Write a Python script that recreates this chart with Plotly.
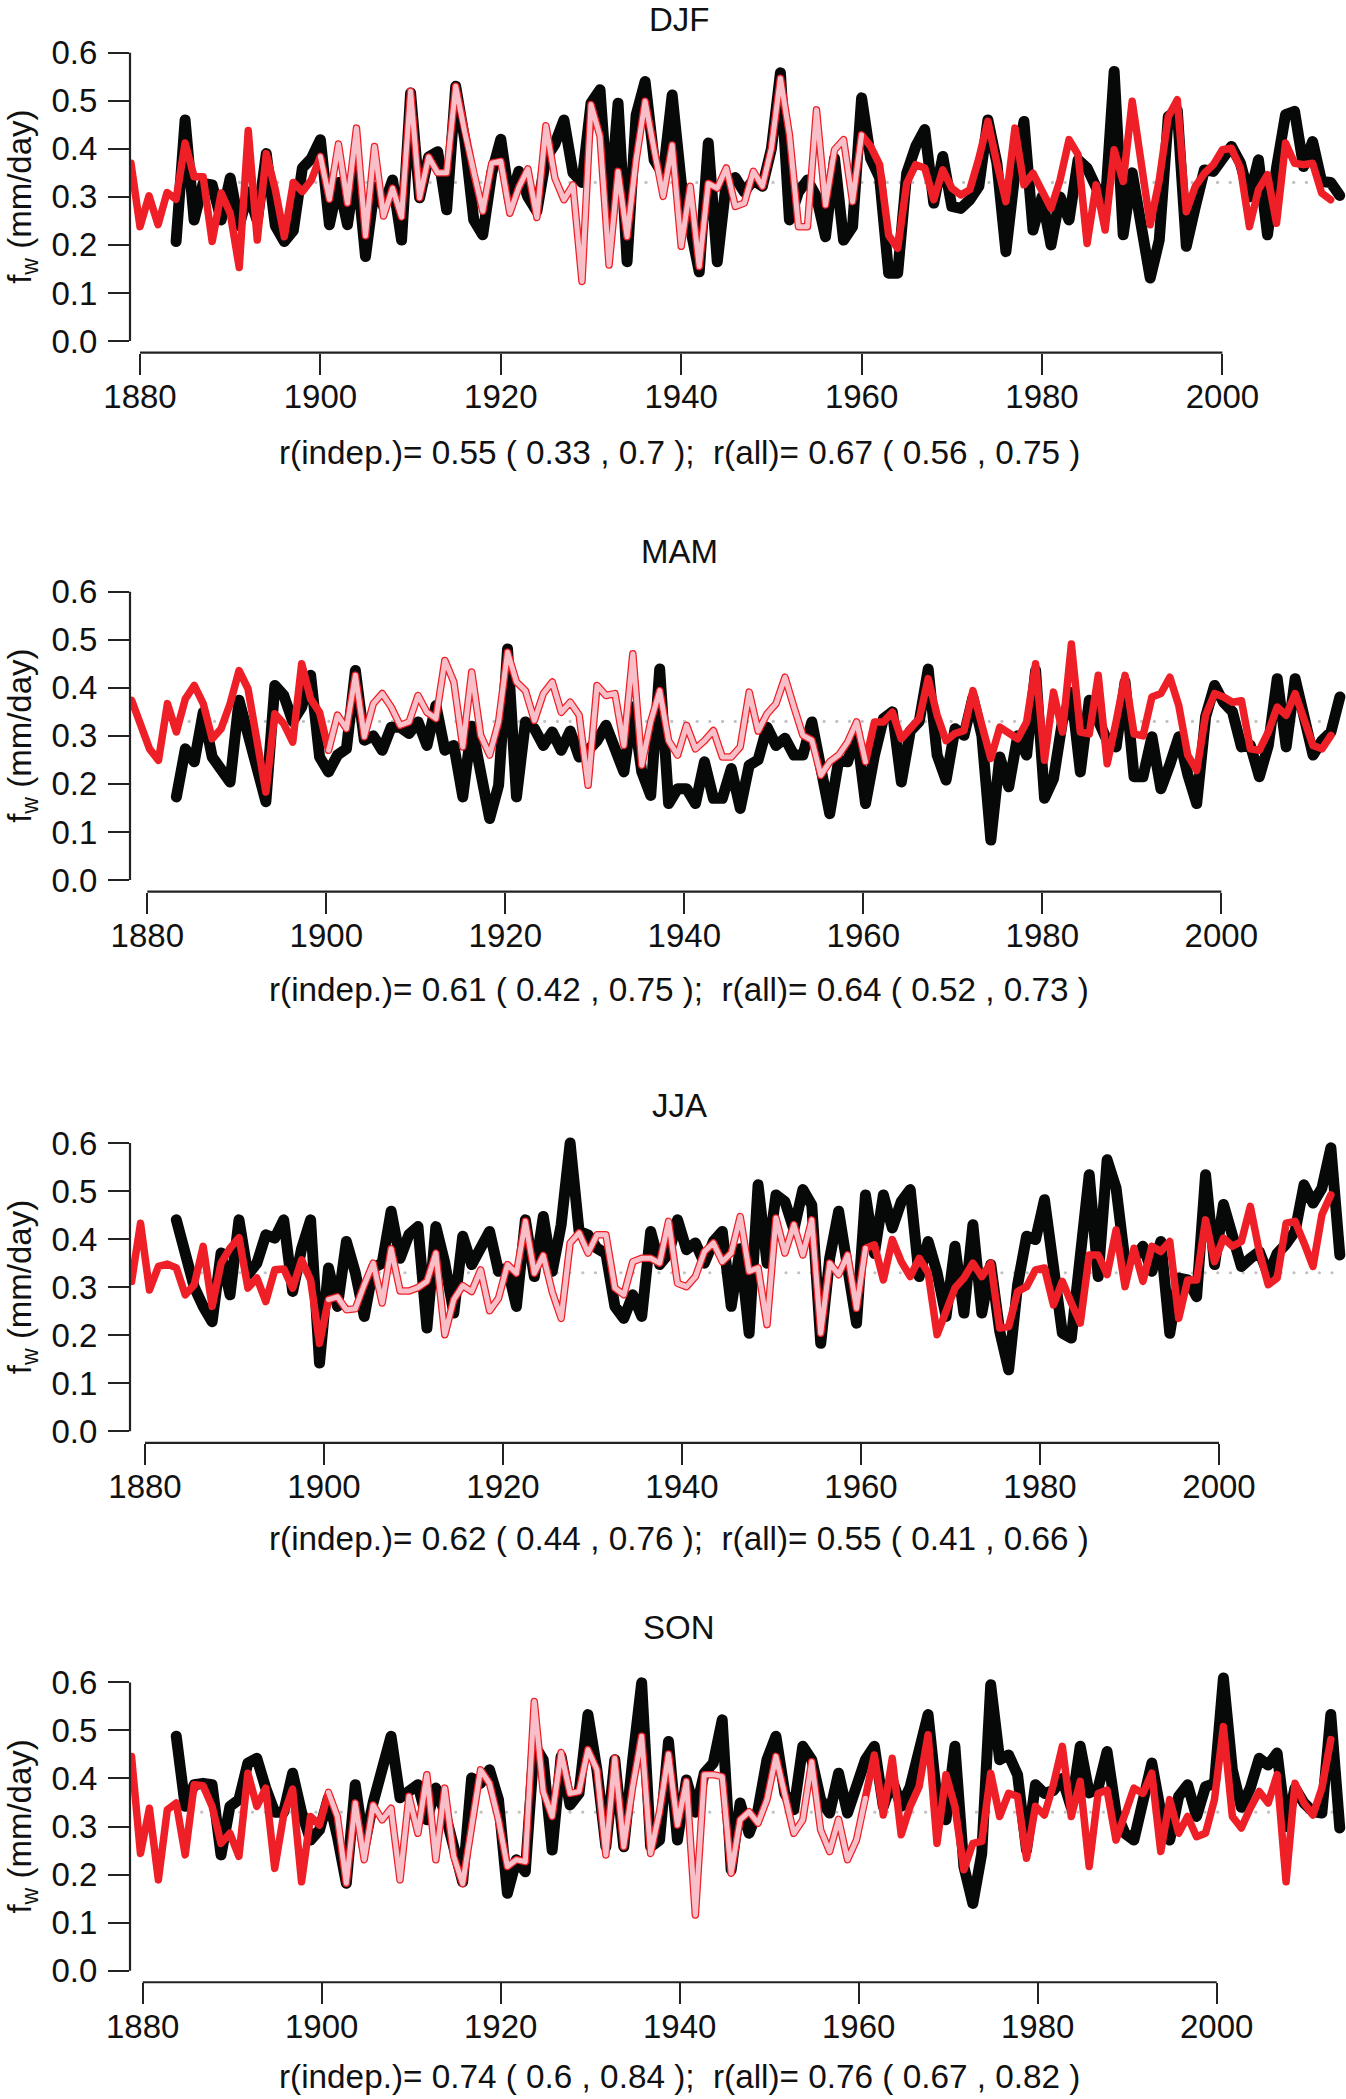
import plotly.graph_objects as go

# seasonal fw (mm/day): observed (black) and reconstruction (red), one value per year
season_names = ["DJF", "MAM", "JJA", "SON"]
season_offset = [0.0, 0.25, 0.5, 0.75]   # position of the season inside the year
clim = [0.33, 0.33, 0.33, 0.33]          # mean of the observations (dotted)
calib_years = (1900, 1960)               # period drawn in pink

djf_obs_start, djf_rec_start = 1884, 1879
mam_obs_start, mam_rec_start = 1883, 1878
jja_obs_start, jja_rec_start = 1883, 1878
son_obs_start, son_rec_start = 1883, 1878

djf_rec = [
    0.370,
    0.238, 0.302, 0.242, 0.309, 0.295, 0.412, 0.342, 0.342, 0.207, 0.308,
    0.266, 0.153, 0.438, 0.210, 0.390, 0.315, 0.217, 0.330, 0.311, 0.335,
    0.384, 0.295, 0.410, 0.287, 0.443, 0.219, 0.405, 0.260, 0.318, 0.258,
    0.520, 0.298, 0.383, 0.350, 0.350, 0.530, 0.435, 0.350, 0.270, 0.370,
    0.374, 0.266, 0.320, 0.358, 0.257, 0.448, 0.339, 0.294, 0.325, 0.124,
    0.492, 0.426, 0.158, 0.353, 0.217, 0.377, 0.499, 0.398, 0.301, 0.408,
    0.197, 0.322, 0.155, 0.328, 0.318, 0.360, 0.280, 0.287, 0.353, 0.322,
    0.401, 0.547, 0.429, 0.238, 0.238, 0.481, 0.283, 0.398, 0.419, 0.290,
    0.429, 0.405, 0.367, 0.220, 0.193, 0.328, 0.367, 0.360, 0.294, 0.356,
    0.318, 0.304, 0.315, 0.380, 0.457, 0.370, 0.290, 0.443, 0.325, 0.349,
    0.308, 0.276, 0.335, 0.419, 0.388, 0.203, 0.325, 0.231, 0.398, 0.332,
    0.499, 0.370, 0.242, 0.335, 0.467, 0.502, 0.269, 0.322, 0.349, 0.367,
    0.398, 0.401, 0.360, 0.238, 0.315, 0.346, 0.245, 0.412, 0.370, 0.367,
    0.370, 0.308, 0.294,
]
djf_obs = [
    0.207, 0.460, 0.252, 0.328, 0.325, 0.252,
    0.339, 0.240, 0.310, 0.250, 0.390, 0.240, 0.207, 0.230, 0.360, 0.380,
    0.419, 0.242, 0.330, 0.242, 0.370, 0.176, 0.320, 0.280, 0.335, 0.210,
    0.516, 0.298, 0.383, 0.394, 0.273, 0.530, 0.420, 0.252, 0.221, 0.350,
    0.420, 0.290, 0.353, 0.300, 0.270, 0.380, 0.410, 0.460, 0.350, 0.330,
    0.495, 0.523, 0.260, 0.495, 0.165, 0.470, 0.540, 0.377, 0.346, 0.512,
    0.330, 0.240, 0.144, 0.412, 0.165, 0.330, 0.340, 0.310, 0.335, 0.322,
    0.400, 0.558, 0.252, 0.310, 0.335, 0.300, 0.217, 0.380, 0.210, 0.238,
    0.506, 0.380, 0.340, 0.141, 0.141, 0.349, 0.405, 0.440, 0.287, 0.384,
    0.280, 0.276, 0.294, 0.322, 0.460, 0.370, 0.186, 0.350, 0.457, 0.231,
    0.300, 0.200, 0.300, 0.252, 0.377, 0.360, 0.320, 0.280, 0.561, 0.221,
    0.350, 0.240, 0.131, 0.210, 0.467, 0.480, 0.197, 0.280, 0.356, 0.353,
    0.377, 0.405, 0.370, 0.300, 0.377, 0.221, 0.360, 0.471, 0.478, 0.363,
    0.415, 0.332, 0.330, 0.303,
]

mam_rec = [
    0.374, 0.325,
    0.273, 0.249, 0.367, 0.308, 0.377, 0.405, 0.367, 0.294, 0.315, 0.367,
    0.436, 0.398, 0.280, 0.183, 0.346, 0.325, 0.287, 0.450, 0.377, 0.349,
    0.270, 0.343, 0.315, 0.426, 0.298, 0.367, 0.388, 0.360, 0.322, 0.329,
    0.384, 0.349, 0.336, 0.457, 0.412, 0.277, 0.433, 0.301, 0.260, 0.329,
    0.474, 0.412, 0.394, 0.332, 0.388, 0.412, 0.349, 0.370, 0.343, 0.197,
    0.405, 0.384, 0.388, 0.280, 0.471, 0.239, 0.330, 0.394, 0.290, 0.260,
    0.322, 0.273, 0.290, 0.311, 0.256, 0.256, 0.277, 0.391, 0.310, 0.346,
    0.367, 0.422, 0.360, 0.301, 0.291, 0.218, 0.246, 0.260, 0.287, 0.329,
    0.246, 0.329, 0.329, 0.349, 0.294, 0.315, 0.336, 0.419, 0.343, 0.290,
    0.305, 0.311, 0.394, 0.322, 0.253, 0.318, 0.304, 0.294, 0.329, 0.450,
    0.249, 0.391, 0.308, 0.491, 0.308, 0.304, 0.426, 0.242, 0.330, 0.426,
    0.304, 0.300, 0.381, 0.388, 0.422, 0.363, 0.260, 0.228, 0.343, 0.388,
    0.381, 0.370, 0.373, 0.273, 0.270, 0.308, 0.360, 0.343, 0.388, 0.336,
    0.280, 0.273, 0.301,
]
mam_obs = [
    0.173, 0.273, 0.246, 0.349, 0.256, 0.232, 0.204,
    0.374, 0.300, 0.218, 0.163, 0.405, 0.384, 0.330, 0.360, 0.426, 0.256,
    0.225, 0.260, 0.273, 0.436, 0.291, 0.300, 0.270, 0.318, 0.318, 0.305,
    0.329, 0.280, 0.363, 0.270, 0.280, 0.173, 0.320, 0.220, 0.128, 0.197,
    0.481, 0.173, 0.329, 0.315, 0.280, 0.308, 0.270, 0.310, 0.256, 0.270,
    0.290, 0.322, 0.270, 0.225, 0.360, 0.225, 0.176, 0.439, 0.159, 0.190,
    0.190, 0.159, 0.246, 0.170, 0.170, 0.232, 0.149, 0.239, 0.250, 0.318,
    0.280, 0.295, 0.260, 0.260, 0.329, 0.220, 0.138, 0.249, 0.246, 0.310,
    0.159, 0.260, 0.336, 0.350, 0.204, 0.310, 0.330, 0.439, 0.260, 0.208,
    0.315, 0.301, 0.380, 0.300, 0.083, 0.256, 0.194, 0.300, 0.260, 0.436,
    0.170, 0.211, 0.330, 0.390, 0.225, 0.374, 0.330, 0.290, 0.277, 0.412,
    0.215, 0.215, 0.298, 0.190, 0.240, 0.298, 0.220, 0.159, 0.340, 0.405,
    0.370, 0.350, 0.277, 0.280, 0.215, 0.280, 0.419, 0.277, 0.419, 0.330,
    0.260, 0.290, 0.308, 0.381,
]

jja_rec = [
    0.312, 0.433,
    0.294, 0.343, 0.348, 0.340, 0.284, 0.305, 0.385, 0.260, 0.350, 0.381,
    0.403, 0.298, 0.319, 0.270, 0.336, 0.338, 0.298, 0.357, 0.315, 0.183,
    0.274, 0.280, 0.253, 0.255, 0.305, 0.350, 0.267, 0.380, 0.292, 0.292,
    0.299, 0.312, 0.371, 0.201, 0.274, 0.303, 0.291, 0.336, 0.251, 0.277,
    0.347, 0.329, 0.437, 0.329, 0.366, 0.290, 0.235, 0.392, 0.413, 0.371,
    0.409, 0.409, 0.298, 0.284, 0.353, 0.360, 0.360, 0.350, 0.437, 0.308,
    0.301, 0.322, 0.374, 0.392, 0.353, 0.371, 0.447, 0.333, 0.340, 0.222,
    0.444, 0.371, 0.430, 0.367, 0.440, 0.204, 0.350, 0.326, 0.367, 0.256,
    0.381, 0.388, 0.315, 0.399, 0.353, 0.322, 0.360, 0.330, 0.201, 0.250,
    0.298, 0.319, 0.350, 0.322, 0.350, 0.215, 0.218, 0.291, 0.301, 0.336,
    0.340, 0.263, 0.312, 0.267, 0.225, 0.367, 0.367, 0.326, 0.419, 0.301,
    0.381, 0.312, 0.385, 0.374, 0.395, 0.235, 0.315, 0.315, 0.440, 0.353,
    0.402, 0.385, 0.395, 0.468, 0.374, 0.305, 0.319, 0.433, 0.437, 0.392,
    0.343, 0.451, 0.492,
]
jja_obs = [
    0.440, 0.360, 0.300, 0.260, 0.228, 0.371, 0.284,
    0.440, 0.326, 0.350, 0.409, 0.402, 0.440, 0.291, 0.380, 0.440, 0.142,
    0.340, 0.260, 0.395, 0.330, 0.239, 0.340, 0.350, 0.458, 0.360, 0.410,
    0.426, 0.215, 0.426, 0.350, 0.246, 0.406, 0.347, 0.380, 0.416, 0.333,
    0.340, 0.260, 0.440, 0.322, 0.447, 0.333, 0.430, 0.600, 0.416, 0.409,
    0.381, 0.370, 0.260, 0.235, 0.284, 0.239, 0.416, 0.347, 0.370, 0.440,
    0.378, 0.392, 0.350, 0.395, 0.416, 0.260, 0.380, 0.204, 0.513, 0.350,
    0.492, 0.478, 0.420, 0.503, 0.471, 0.183, 0.360, 0.458, 0.340, 0.225,
    0.492, 0.370, 0.492, 0.423, 0.478, 0.503, 0.322, 0.395, 0.330, 0.239,
    0.385, 0.246, 0.430, 0.246, 0.347, 0.208, 0.128, 0.305, 0.406, 0.399,
    0.482, 0.347, 0.204, 0.194, 0.360, 0.534, 0.322, 0.565, 0.506, 0.353,
    0.360, 0.385, 0.333, 0.395, 0.204, 0.319, 0.315, 0.280, 0.534, 0.347,
    0.472, 0.399, 0.343, 0.360, 0.374, 0.326, 0.370, 0.390, 0.416, 0.513,
    0.475, 0.506, 0.590, 0.367,
]

son_rec = [
    0.446, 0.244,
    0.338, 0.189, 0.335, 0.349, 0.241, 0.387, 0.385, 0.342, 0.265, 0.286,
    0.238, 0.411, 0.342, 0.380, 0.213, 0.324, 0.378, 0.185, 0.321, 0.303,
    0.371, 0.321, 0.182, 0.349, 0.231, 0.345, 0.314, 0.338, 0.189, 0.363,
    0.286, 0.408, 0.231, 0.380, 0.238, 0.181, 0.300, 0.418, 0.390, 0.314,
    0.217, 0.231, 0.227, 0.560, 0.373, 0.321, 0.454, 0.369, 0.373, 0.460,
    0.418, 0.241, 0.442, 0.258, 0.383, 0.488, 0.244, 0.331, 0.451, 0.303,
    0.394, 0.116, 0.408, 0.408, 0.404, 0.203, 0.314, 0.331, 0.307, 0.356,
    0.446, 0.369, 0.286, 0.314, 0.435, 0.293, 0.248, 0.315, 0.231, 0.272,
    0.359, 0.449, 0.324, 0.442, 0.283, 0.342, 0.383, 0.491, 0.265, 0.408,
    0.342, 0.210, 0.265, 0.269, 0.411, 0.321, 0.369, 0.363, 0.234, 0.342,
    0.324, 0.387, 0.467, 0.321, 0.394, 0.217, 0.369, 0.376, 0.272, 0.328,
    0.380, 0.369, 0.411, 0.248, 0.356, 0.286, 0.321, 0.279, 0.286, 0.356,
    0.508, 0.321, 0.297, 0.338, 0.373, 0.349, 0.408, 0.185, 0.390, 0.349,
    0.324, 0.380, 0.481,
]
son_obs = [
    0.488, 0.342, 0.387, 0.390, 0.387, 0.241, 0.342,
    0.356, 0.432, 0.442, 0.380, 0.330, 0.330, 0.411, 0.330, 0.272, 0.293,
    0.360, 0.280, 0.182, 0.387, 0.258, 0.350, 0.420, 0.488, 0.360, 0.376,
    0.387, 0.314, 0.380, 0.330, 0.260, 0.185, 0.401, 0.390, 0.418, 0.356,
    0.161, 0.231, 0.206, 0.470, 0.439, 0.251, 0.446, 0.345, 0.369, 0.533,
    0.418, 0.258, 0.439, 0.258, 0.439, 0.599, 0.258, 0.272, 0.477, 0.272,
    0.397, 0.330, 0.411, 0.432, 0.522, 0.210, 0.349, 0.286, 0.335, 0.439,
    0.488, 0.369, 0.335, 0.467, 0.439, 0.356, 0.328, 0.411, 0.328, 0.390,
    0.439, 0.467, 0.342, 0.397, 0.342, 0.383, 0.467, 0.533, 0.356, 0.314,
    0.467, 0.217, 0.140, 0.244, 0.595, 0.439, 0.449, 0.408, 0.251, 0.387,
    0.369, 0.375, 0.400, 0.340, 0.467, 0.370, 0.380, 0.456, 0.330, 0.286,
    0.272, 0.360, 0.432, 0.330, 0.272, 0.363, 0.387, 0.321, 0.383, 0.390,
    0.609, 0.418, 0.340, 0.380, 0.442, 0.428, 0.453, 0.300, 0.380, 0.349,
    0.331, 0.328, 0.533, 0.297,
]

r_text = [
    "r(indep.)= 0.55 ( 0.33 , 0.7 );  r(all)= 0.67 ( 0.56 , 0.75 )",
    "r(indep.)= 0.61 ( 0.42 , 0.75 );  r(all)= 0.64 ( 0.52 , 0.73 )",
    "r(indep.)= 0.62 ( 0.44 , 0.76 );  r(all)= 0.55 ( 0.41 , 0.66 )",
    "r(indep.)= 0.74 ( 0.6 , 0.84 );  r(all)= 0.76 ( 0.67 , 0.82 )",
]
x_ticks = [1880, 1900, 1920, 1940, 1960, 1980, 2000]
y_ticks = [0.0, 0.1, 0.2, 0.3, 0.4, 0.5, 0.6]

obs_list = [(djf_obs_start, djf_obs), (mam_obs_start, mam_obs),
            (jja_obs_start, jja_obs), (son_obs_start, son_obs)]
rec_list = [(djf_rec_start, djf_rec), (mam_rec_start, mam_rec),
            (jja_rec_start, jja_rec), (son_rec_start, son_rec)]

# page geometry (pixels)
W, H = 1346, 2099
plot_left = 130
px_1880 = [140.0, 147.3, 145.0, 142.7]      # where 1880 sits in each panel
px_per_year = [9.02, 8.95, 8.95, 8.95]
y0_px = [341.0, 880.0, 1431.3, 1970.7]      # pixel row of fw = 0
px_per_unit = 480.5
title_px = [19, 551, 1105, 1627]
stats_px = [452, 990, 1538, 2076]
ylo, yhi = -0.024, 0.624

FONT = "Liberation Sans, Arial, Helvetica, sans-serif"
BLACK = "#070909"
RED = "#EE1F26"
PINK = "#F9BFC9"
AXIS = "#222222"
TXT = "#111111"

fig = go.Figure()
layout = dict(shapes=[], annotations=[])

for i in range(4):
    n = "" if i == 0 else str(i + 1)
    xa, ya = "x" + n, "y" + n
    off = season_offset[i]

    o_start, o_vals = obs_list[i]
    r_start, r_vals = rec_list[i]
    o_years = list(range(o_start, o_start + len(o_vals)))
    r_years = list(range(r_start, r_start + len(r_vals)))

    # mean of observations, drawn as round dots
    fig.add_trace(go.Scatter(
        x=[o_years[0] + off, o_years[-1] + off], y=[clim[i], clim[i]],
        mode="lines", line=dict(color="#C2C2C2", width=3.2, dash="0.1px,12.6px"),
        xaxis=xa, yaxis=ya, hoverinfo="skip"))
    # observations
    fig.add_trace(go.Scatter(
        x=[y + off for y in o_years], y=o_vals, mode="lines",
        line=dict(color=BLACK, width=11), xaxis=xa, yaxis=ya))
    # reconstruction
    fig.add_trace(go.Scatter(
        x=[y + off for y in r_years], y=r_vals, mode="lines",
        line=dict(color=RED, width=7.5), xaxis=xa, yaxis=ya))
    # reconstruction inside the calibration period: pink with red edge
    cx = [y + off for y in r_years if calib_years[0] <= y <= calib_years[1]]
    cy = [v for y, v in zip(r_years, r_vals) if calib_years[0] <= y <= calib_years[1]]
    fig.add_trace(go.Scatter(
        x=cx, y=cy, mode="lines", line=dict(color=PINK, width=5.0),
        xaxis=xa, yaxis=ya))

    bottom = y0_px[i] - ylo * px_per_unit
    top = y0_px[i] - yhi * px_per_unit
    xl = 1880 - (px_1880[i] - plot_left) / px_per_year[i]
    xr = 1880 + (W - px_1880[i]) / px_per_year[i]

    layout["xaxis" + n] = dict(
        domain=[plot_left / W, 1.0], range=[xl, xr], anchor=ya,
        tickvals=x_ticks, ticks="outside", ticklen=21, tickwidth=2.2,
        tickcolor=AXIS, showline=False, showgrid=False, zeroline=False,
        tickfont=dict(family=FONT, size=33, color=TXT),
        ticklabelstandoff=-6, automargin=False, fixedrange=True)
    layout["yaxis" + n] = dict(
        domain=[1 - bottom / H, 1 - top / H], range=[ylo, yhi], anchor=xa,
        tickvals=y_ticks, tickformat=".1f", ticks="outside", ticklen=21,
        tickwidth=2.2, tickcolor=AXIS, showline=False, showgrid=False,
        zeroline=False, tickfont=dict(family=FONT, size=33, color=TXT),
        ticklabelstandoff=4, automargin=False, fixedrange=True)

    # R-style axis lines that stop at the outer ticks
    layout["shapes"].append(dict(
        type="line", xref=xa, yref=ya + " domain", x0=x_ticks[0], x1=x_ticks[-1],
        y0=0, y1=0, line=dict(color=AXIS, width=2.2)))
    layout["shapes"].append(dict(
        type="line", xref=xa + " domain", yref=ya, x0=0, x1=0,
        y0=y_ticks[0], y1=y_ticks[-1], line=dict(color=AXIS, width=2.2)))

    layout["annotations"].append(dict(
        text=season_names[i], xref="paper", yref="paper", x=679 / W,
        y=1 - title_px[i] / H, showarrow=False, xanchor="center", yanchor="middle",
        font=dict(family=FONT, size=33, color=TXT)))
    layout["annotations"].append(dict(
        text=r_text[i], xref="paper", yref="paper", x=679 / W,
        y=1 - stats_px[i] / H, showarrow=False, xanchor="center", yanchor="middle",
        font=dict(family=FONT, size=33.3, color=TXT)))
    mid = y0_px[i] - 0.3 * px_per_unit
    layout["annotations"].append(dict(
        text="f<sub>w</sub> (mm/day)", xref="paper", yref="paper", x=22 / W,
        y=1 - mid / H, showarrow=False, xanchor="center", yanchor="middle",
        textangle=-90, font=dict(family=FONT, size=33, color=TXT)))

fig.update_layout(
    width=W, height=H,
    margin=dict(l=0, r=0, t=0, b=0, pad=0, autoexpand=False),
    paper_bgcolor="white", plot_bgcolor="white", showlegend=False,
    **layout)

# R draws polylines with round joins and caps; no page margin around the figure
js = ("document.body.style.margin='0';"
      "var s=document.createElement('style');"
      "s.innerHTML='.scatterlayer path.js-line{stroke-linejoin:round !important;"
      "stroke-linecap:round !important;}';document.head.appendChild(s);")
fig.write_html("out.html", post_script=js, config={"displayModeBar": False})
